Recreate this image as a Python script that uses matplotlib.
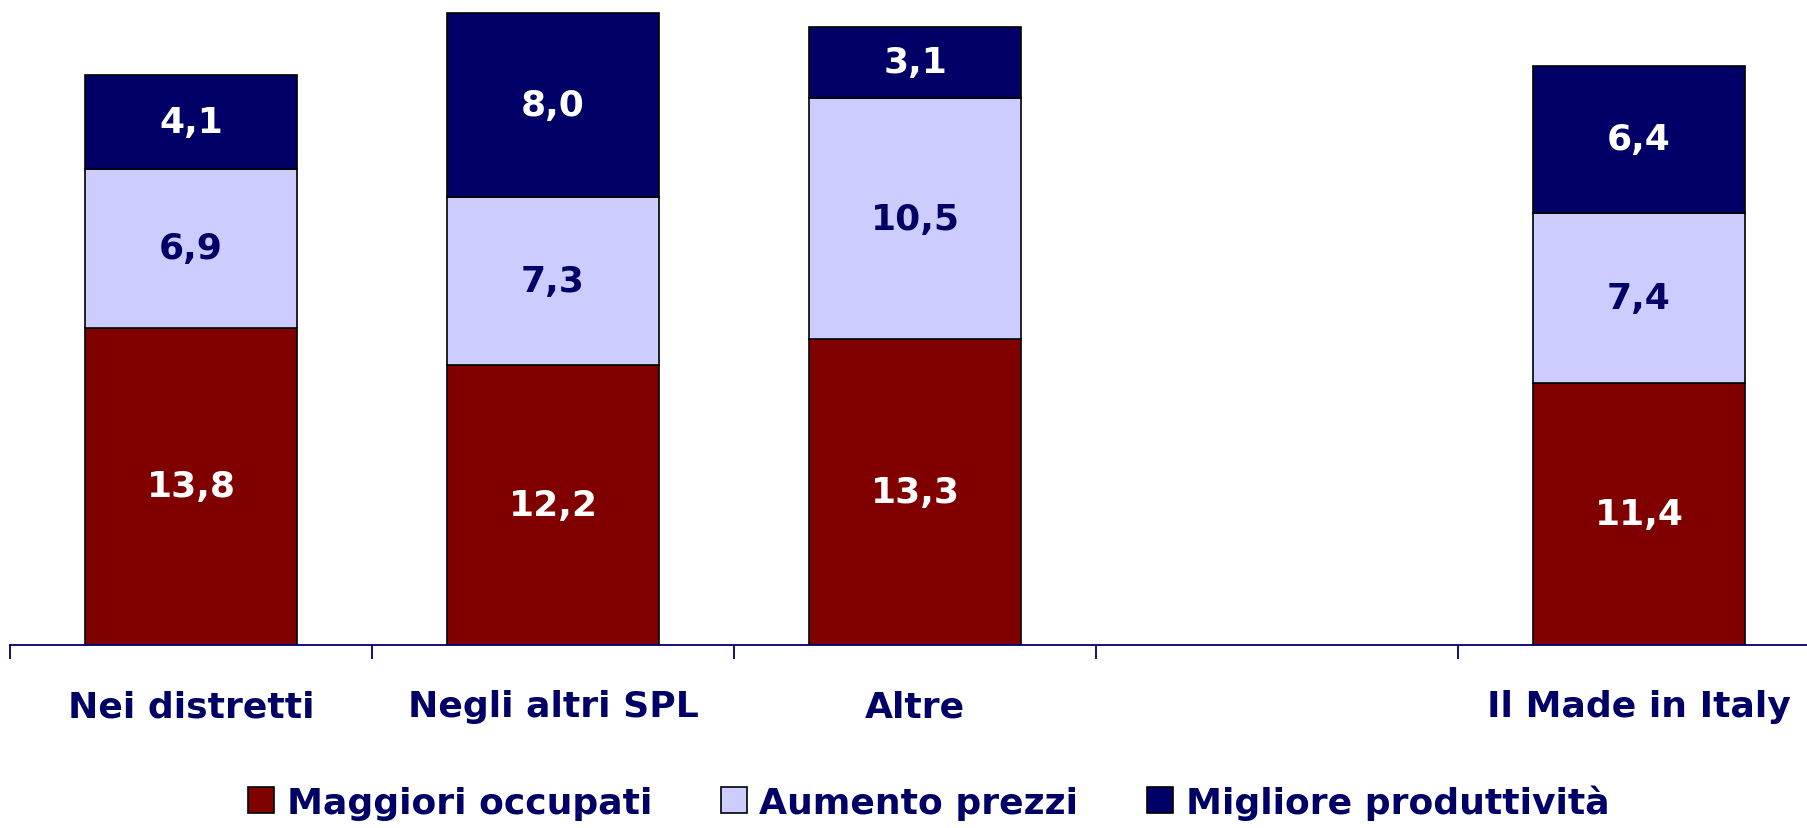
import matplotlib
matplotlib.use("Agg")
import matplotlib.pyplot as plt
import numpy as np
from matplotlib.patches import Patch

categories = ["Nei distretti", "Negli altri SPL", "Altre", "", "Il Made in Italy"]
occupati = [13.8, 12.2, 13.3, None, 11.4]
prezzi = [6.9, 7.3, 10.5, None, 7.4]
produttivita = [4.1, 8.0, 3.1, None, 6.4]
series_names = ["Maggiori occupati", "Aumento prezzi", "Migliore produttività"]

c_occ = "#800000"
c_pre = "#CCCCFF"
c_pro = "#000066"
navy = "#000066"

plt.rcParams['font.family'] = ['DejaVu Sans']

W, H = 1807, 829
fig = plt.figure(figsize=(W / 100, H / 100), dpi=100)
ax_left = 10 / W
ax_w = 1810 / W
axis_y = 646
ax_bottom = (H - axis_y) / H
ax_h = axis_y / H
ax = fig.add_axes([ax_left, ax_bottom, ax_w, ax_h])

n = len(categories)
x = np.arange(n)
width = 0.586
for i in range(n):
    if occupati[i] is None:
        continue
    vals = [occupati[i], prezzi[i], produttivita[i]]
    cols = [c_occ, c_pre, c_pro]
    tcols = ["white", navy, "white"]
    bottom = 0
    for v, c, tc in zip(vals, cols, tcols):
        ax.bar(x[i], v, width, bottom=bottom, color=c, edgecolor="black", linewidth=1.2)
        ax.text(x[i], bottom + v / 2, f"{v:.1f}".replace(".", ","), ha="center", va="center",
                color=tc, fontsize=26, fontweight="bold")
        bottom += v

ax.set_xlim(-0.5, n - 0.5)
ax.set_ylim(0, 28.1)
ax.set_yticks([])
for s in ["top", "right", "left"]:
    ax.spines[s].set_visible(False)
ax.spines["bottom"].set_color(navy)
ax.spines["bottom"].set_linewidth(1.3)
ax.set_xticks(np.arange(n + 1) - 0.5)
ax.set_xticklabels([])
ax.tick_params(axis="x", which="major", length=10, width=1.3, color=navy, direction="out")
ax.set_xticks(x, minor=True)
ax.set_xticklabels(categories, minor=True, fontsize=26, fontweight="bold", color=navy)
ax.tick_params(axis="x", which="minor", length=0, pad=32)

handles = [Patch(facecolor=c, edgecolor="black", linewidth=1.2) for c in [c_occ, c_pre, c_pro]]
leg = fig.legend(handles, series_names, loc="center", bbox_to_anchor=(0.514, (H - 803) / H),
                 ncol=3, frameon=False, fontsize=26, handlelength=0.72, handleheight=0.72,
                 handletextpad=0.35, columnspacing=1.9)
for t in leg.get_texts():
    t.set_color(navy)
    t.set_fontweight("bold")

fig.savefig("out.png", dpi=100)
